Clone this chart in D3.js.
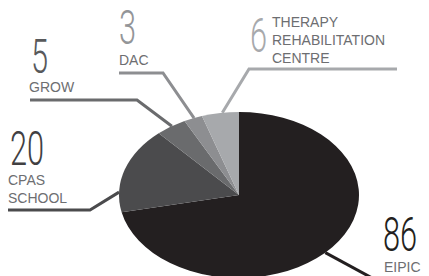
<!DOCTYPE html>
<html>
<head>
<meta charset="utf-8">
<script src="https://cdn.jsdelivr.net/npm/d3@7"></script>
<style>
  body { margin: 0; background: #fff; }
  svg { display: block; }
</style>
</head>
<body>
<svg id="chart"></svg>
<script>
var WIDTH = 429;
var HEIGHT = 276;

// data
var categories = ['EIPIC', 'CPAS SCHOOL', 'GROW', 'DAC', 'THERAPY REHABILITATION CENTRE'];
var values = [86, 20, 5, 3, 6];
var labelLines = [['EIPIC'], ['CPAS', 'SCHOOL'], ['GROW'], ['DAC'], ['THERAPY', 'REHABILITATION', 'CENTRE']];

var sliceColors = ['#231f20', '#4b4b4d', '#6a6b6d', '#8d8e91', '#a7a9ac'];
var numberColors = ['#231f20', '#414042', '#58595b', '#939598', '#a7a9ac'];

// where each callout sits (number, label, elbow line)
var callouts = [
  { nx: 383, ny: 251, lx: 384, ly: 272, lineY: 300, x0: 420, x1: 380, anchorAngle: 134 },
  { nx: 10, ny: 165, lx: 8, ly: 185, lineY: 210, x0: 8, x1: 90, anchorAngle: 272 },
  { nx: 31, ny: 73, lx: 29, ly: 92, lineY: 100, x0: 30, x1: 137, anchorAngle: 326 },
  { nx: 119, ny: 44, lx: 119, ly: 65, lineY: 73, x0: 119, x1: 163, anchorAngle: 338 },
  { nx: 250, ny: 52, lx: 272, ly: 27, lineY: 69, x0: 397, x1: 249, anchorAngle: 352 }
];

var cx = 239, cy = 195, rx = 120, ry = 83;

var svg = d3.select('#chart')
  .attr('width', WIDTH)
  .attr('height', HEIGHT);

var pie = d3.pie().sort(null).value(function(d) { return d; });
var arcs = pie(values);

// pie drawn on a circle then squashed to an ellipse
var arc = d3.arc().innerRadius(0).outerRadius(rx);

svg.append('g')
  .attr('transform', 'translate(' + cx + ',' + cy + ') scale(1,' + (ry / rx) + ')')
  .selectAll('path')
  .data(arcs)
  .enter()
  .append('path')
  .attr('d', arc)
  .attr('fill', function(d, i) { return sliceColors[i]; });

// leader lines
var edgePoint = function(deg) {
  var a = deg * Math.PI / 180;
  return [cx + rx * Math.sin(a), cy - ry * Math.cos(a)];
};

var line = d3.line();
svg.append('g')
  .selectAll('path')
  .data(callouts)
  .enter()
  .append('path')
  .attr('d', function(c, i) {
    var p = edgePoint(c.anchorAngle);
    if (i === 0) {
      // EIPIC: runs down-right off the bottom
      return line([p, [p[0] + 48, p[1] + 26]]);
    }
    return line([[c.x0, c.lineY], [c.x1, c.lineY], p]);
  })
  .attr('fill', 'none')
  .attr('stroke', function(c, i) { return i === 0 ? '#231f20' : sliceColors[i]; })
  .attr('stroke-width', 3);

// big condensed numbers
svg.append('g')
  .selectAll('text')
  .data(callouts)
  .enter()
  .append('text')
  .attr('transform', function(c) { return 'translate(' + c.nx + ',' + c.ny + ') scale(0.64,1)'; })
  .style('font-family', 'Roboto, sans-serif')
  .style('font-weight', 300)
  .style('font-size', '48px')
  .attr('fill', function(c, i) { return numberColors[i]; })
  .text(function(c, i) { return values[i]; });

// category labels
var labels = svg.append('g')
  .selectAll('text')
  .data(callouts)
  .enter()
  .append('text')
  .attr('x', function(c) { return c.lx; })
  .attr('y', function(c) { return c.ly; })
  .style('font-family', '"Liberation Sans", Arial, sans-serif')
  .style('font-size', '14px')
  .attr('fill', '#6d6e71');

labels.selectAll('tspan')
  .data(function(c, i) { return labelLines[i].map(function(t) { return { t: t, x: c.lx }; }); })
  .enter()
  .append('tspan')
  .attr('x', function(d) { return d.x; })
  .attr('dy', function(d, j) { return j === 0 ? 0 : 18; })
  .text(function(d) { return d.t; });
</script>
</body>
</html>
